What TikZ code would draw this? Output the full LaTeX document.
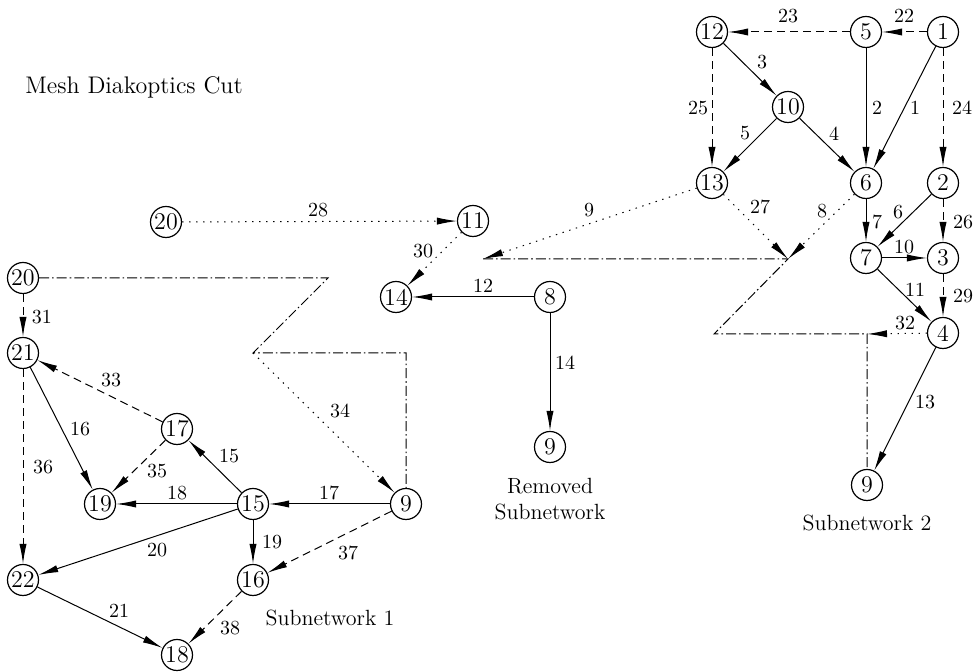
\documentclass[tikz,border=0pt]{standalone}
\usetikzlibrary{arrows.meta}
\begin{document}
\begin{tikzpicture}[x=0.5pt,y=0.5pt,
 v/.style={circle,draw,line width=0.6pt,inner sep=0pt,minimum size=15.5pt,font=\fontsize{12}{12}\selectfont},
 lbl/.style={font=\fontsize{10}{10}\selectfont,inner sep=1pt},
 ttl/.style={font=\fontsize{11}{13}\selectfont,inner sep=1pt,align=center},
 e/.style={line width=0.5pt,-{Latex[length=10pt,width=3.6pt]}},
 ed/.style={e,dash pattern=on 4pt off 2.5pt},
 edot/.style={e,dash pattern=on 0.7pt off 2.8pt},
 cut/.style={line width=0.5pt,dash pattern=on 5pt off 1.5pt on 0.8pt off 1.5pt}]
\useasboundingbox (0,0) rectangle (976,-672);
% title
\node[font=\fontsize{12}{14}\selectfont,anchor=west,inner sep=0pt] (title) at (25,-87) {Mesh Diakoptics Cut};
% subnetwork 2 nodes
\node[v] (n12) at (712,-32) {12};
\node[v] (n5) at (866,-32) {5};
\node[v] (n1) at (943,-32) {1};
\node[v] (n10) at (788,-107) {10};
\node[v] (n13) at (712,-183) {13};
\node[v] (n6) at (866,-183) {6};
\node[v] (n2) at (943,-183) {2};
\node[v] (n7) at (866,-258) {7};
\node[v] (n3) at (943,-258) {3};
\node[v] (n4) at (943,-333) {4};
\node[v] (n9c) at (867,-485) {9};
\node[ttl] (sub2) at (867,-523) {Subnetwork 2};
% removed subnetwork
\node[v] (n11) at (473,-221) {11};
\node[v] (n14) at (396,-297) {14};
\node[v] (n8) at (550,-297) {8};
\node[v] (n9b) at (550,-447) {9};
\node[ttl] (rem) at (550,-499) {Removed\\Subnetwork};
% subnetwork 1
\node[v] (n20a) at (166,-222) {20};
\node[v] (n20b) at (23,-278) {20};
\node[v] (n21) at (23,-353) {21};
\node[v] (n17) at (177,-429) {17};
\node[v] (n19) at (100,-504) {19};
\node[v] (n15) at (253,-504) {15};
\node[v] (n9a) at (406,-504) {9};
\node[v] (n22) at (23,-580) {22};
\node[v] (n16) at (253,-580) {16};
\node[v] (n18) at (177,-655) {18};
\node[ttl] (sub1) at (330,-618) {Subnetwork 1};
% cut corners
\coordinate (c1) at (328,-278);
\coordinate (c2) at (253,-353);
\coordinate (c3) at (406,-353);
\coordinate (m1) at (483,-259);
\coordinate (m2) at (788,-259);
\coordinate (m3) at (714,-334);
\coordinate (m4) at (867,-334);
% cuts
\draw[cut] (n20b.east) -- (c1) -- (c2) -- (c3) -- (n9a.north);
\draw[cut] (m1) -- (m2) -- (m3) -- (m4) -- (n9c.north);
% subnetwork 2 edges
\draw[ed] (n1) -- (n5);
\draw[ed] (n5) -- (n12);
\draw[e] (n12) -- (n10);
\draw[ed] (n12) -- (n13);
\draw[e] (n10) -- (n13);
\draw[e] (n10) -- (n6);
\draw[e] (n5) -- (n6);
\draw[e] (n1) -- (n6);
\draw[ed] (n1) -- (n2);
\draw[e] (n6) -- (n7);
\draw[e] (n2) -- (n7);
\draw[ed] (n2) -- (n3);
\draw[e] (n7) -- (n3);
\draw[e] (n7) -- (n4);
\draw[ed] (n3) -- (n4);
\draw[edot] (n4) -- (m4);
\draw[e] (n4) -- (n9c);
\draw[edot] (n13) -- (m1);
\draw[edot] (n13) -- (m2);
\draw[edot] (n6) -- (m2);
% removed
\draw[e] (n8) -- (n14);
\draw[e] (n8) -- (n9b);
\draw[edot] (n20a) -- (n11);
\draw[edot] (n11) -- (n14);
% subnetwork 1 edges
\draw[ed] (n20b) -- (n21);
\draw[ed] (n17) -- (n21);
\draw[e] (n21) -- (n19);
\draw[ed] (n21) -- (n22);
\draw[ed] (n17) -- (n19);
\draw[e] (n15) -- (n17);
\draw[e] (n15) -- (n19);
\draw[e] (n9a) -- (n15);
\draw[edot] (c2) -- (n9a);
\draw[e] (n15) -- (n22);
\draw[e] (n15) -- (n16);
\draw[ed] (n9a) -- (n16);
\draw[e] (n22) -- (n18);
\draw[ed] (n16) -- (n18);
% labels
\node[lbl] (l23) at (788,-16) {23};
\node[lbl] (l22) at (904,-16) {22};
\node[lbl] (l3) at (762,-62) {3};
\node[lbl] (l25) at (698,-108) {25};
\node[lbl] (l2) at (877,-108) {2};
\node[lbl] (l1) at (915,-108) {1};
\node[lbl] (l24) at (962,-108) {24};
\node[lbl] (l5) at (745,-133) {5};
\node[lbl] (l4) at (834,-134) {4};
\node[lbl] (l27) at (760,-207) {27};
\node[lbl] (l8) at (822,-211) {8};
\node[lbl] (l6) at (898,-212) {6};
\node[lbl] (l7) at (877,-222) {7};
\node[lbl] (l26) at (963,-222) {26};
\node[lbl] (l10) at (904,-247) {10};
\node[lbl] (l11) at (915,-290) {11};
\node[lbl] (l29) at (963,-296) {29};
\node[lbl] (l32) at (905,-323) {32};
\node[lbl] (l13) at (925,-402) {13};
\node[lbl] (l9) at (589,-210) {9};
\node[lbl] (l30) at (423,-251) {30};
\node[lbl] (l12) at (483,-286) {12};
\node[lbl] (l14) at (565,-363) {14};
\node[lbl] (l28) at (318,-210) {28};
\node[lbl] (l31) at (42,-317) {31};
\node[lbl] (l33) at (111,-380) {33};
\node[lbl] (l34) at (340,-411) {34};
\node[lbl] (l16) at (80,-429) {16};
\node[lbl] (l15) at (229,-456) {15};
\node[lbl] (l36) at (43,-467) {36};
\node[lbl] (l35) at (157,-471) {35};
\node[lbl] (l18) at (177,-493) {18};
\node[lbl] (l17) at (329,-493) {17};
\node[lbl] (l20) at (157,-550) {20};
\node[lbl] (l19) at (272,-542) {19};
\node[lbl] (l37) at (348,-553) {37};
\node[lbl] (l21) at (119,-611) {21};
\node[lbl] (l38) at (230,-628) {38};
\end{tikzpicture}
\end{document}
